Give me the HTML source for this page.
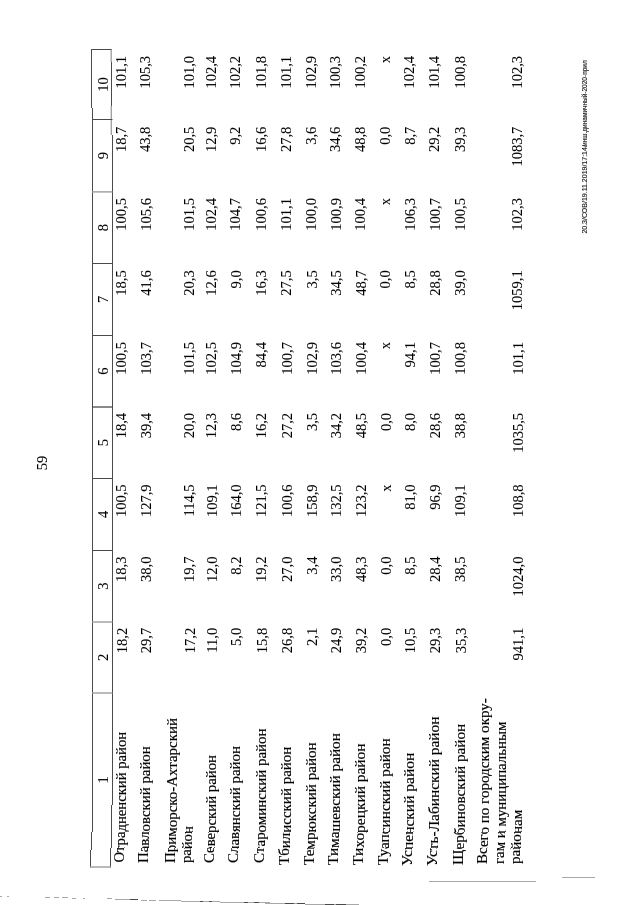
<!DOCTYPE html>
<html><head><meta charset="utf-8"><style>
html,body{margin:0;padding:0;background:#fff;}
body{width:640px;height:905px;overflow:hidden;position:relative;}
#pg{position:absolute;left:0;top:0;width:905px;height:640px;transform-origin:0 0;transform:translateY(905px) rotate(-90deg);will-change:transform;}
.t{position:absolute;font-family:"Liberation Serif",serif;font-size:14.5px;line-height:0;white-space:nowrap;color:#000;-webkit-text-stroke:0.1px #000;}
.r{text-align:right;}
.band{position:absolute;left:0;top:0;width:905px;height:640px;}
.c{width:200px;text-align:center;}
.ln{position:absolute;}
.ft{position:absolute;font-family:"Liberation Sans",sans-serif;white-space:nowrap;color:#111;-webkit-text-stroke:0.15px #111;}
.bl{position:absolute;background:#999;height:1px;}
</style></head><body>
<div id="pg">
<div class="t c" style="left:25.00px;top:103.11px;">1</div>
<div class="t c" style="left:147.50px;top:103.11px;">2</div>
<div class="t c" style="left:218.75px;top:103.11px;">3</div>
<div class="t c" style="left:290.50px;top:103.11px;">4</div>
<div class="t c" style="left:362.25px;top:103.11px;">5</div>
<div class="t c" style="left:433.75px;top:103.11px;">6</div>
<div class="t c" style="left:505.50px;top:103.11px;">7</div>
<div class="t c" style="left:577.30px;top:103.11px;">8</div>
<div class="t c" style="left:649.30px;top:103.11px;">9</div>
<div class="t c" style="left:720.50px;top:103.11px;">10</div>
<div class="t r" style="right:627.80px;top:121.51px;">18,2</div>
<div class="t r" style="right:556.60px;top:121.38px;">18,3</div>
<div class="t r" style="right:484.40px;top:121.26px;">100,5</div>
<div class="t r" style="right:412.90px;top:121.13px;">18,4</div>
<div class="t r" style="right:342.10px;top:121.01px;">100,5</div>
<div class="t r" style="right:270.30px;top:120.88px;">18,5</div>
<div class="t r" style="right:198.10px;top:120.76px;">100,5</div>
<div class="t r" style="right:126.70px;top:120.63px;">18,7</div>
<div class="t r" style="right:56.00px;top:120.51px;">101,1</div>
<div class="t r" style="right:627.80px;top:146.31px;">29,7</div>
<div class="t r" style="right:556.60px;top:146.18px;">38,0</div>
<div class="t r" style="right:484.40px;top:146.06px;">127,9</div>
<div class="t r" style="right:412.90px;top:145.93px;">39,4</div>
<div class="t r" style="right:342.10px;top:145.81px;">103,7</div>
<div class="t r" style="right:270.30px;top:145.68px;">41,6</div>
<div class="t r" style="right:198.10px;top:145.56px;">105,6</div>
<div class="t r" style="right:126.70px;top:145.43px;">43,8</div>
<div class="t r" style="right:56.00px;top:145.31px;">105,3</div>
<div class="t r" style="right:627.80px;top:189.61px;">17,2</div>
<div class="t r" style="right:556.60px;top:189.48px;">19,7</div>
<div class="t r" style="right:484.40px;top:189.36px;">114,5</div>
<div class="t r" style="right:412.90px;top:189.23px;">20,0</div>
<div class="t r" style="right:342.10px;top:189.11px;">101,5</div>
<div class="t r" style="right:270.30px;top:188.98px;">20,3</div>
<div class="t r" style="right:198.10px;top:188.86px;">101,5</div>
<div class="t r" style="right:126.70px;top:188.73px;">20,5</div>
<div class="t r" style="right:56.00px;top:188.61px;">101,0</div>
<div class="t r" style="right:627.80px;top:211.81px;">11,0</div>
<div class="t r" style="right:556.60px;top:211.68px;">12,0</div>
<div class="t r" style="right:484.40px;top:211.56px;">109,1</div>
<div class="t r" style="right:412.90px;top:211.43px;">12,3</div>
<div class="t r" style="right:342.10px;top:211.31px;">102,5</div>
<div class="t r" style="right:270.30px;top:211.18px;">12,6</div>
<div class="t r" style="right:198.10px;top:211.06px;">102,4</div>
<div class="t r" style="right:126.70px;top:210.93px;">12,9</div>
<div class="t r" style="right:56.00px;top:210.81px;">102,4</div>
<div class="t r" style="right:627.80px;top:236.21px;">5,0</div>
<div class="t r" style="right:556.60px;top:236.08px;">8,2</div>
<div class="t r" style="right:484.40px;top:235.96px;">164,0</div>
<div class="t r" style="right:412.90px;top:235.83px;">8,6</div>
<div class="t r" style="right:342.10px;top:235.71px;">104,9</div>
<div class="t r" style="right:270.30px;top:235.58px;">9,0</div>
<div class="t r" style="right:198.10px;top:235.46px;">104,7</div>
<div class="t r" style="right:126.70px;top:235.33px;">9,2</div>
<div class="t r" style="right:56.00px;top:235.21px;">102,2</div>
<div class="t r" style="right:627.80px;top:261.51px;">15,8</div>
<div class="t r" style="right:556.60px;top:261.38px;">19,2</div>
<div class="t r" style="right:484.40px;top:261.26px;">121,5</div>
<div class="t r" style="right:412.90px;top:261.13px;">16,2</div>
<div class="t r" style="right:342.10px;top:261.01px;">84,4</div>
<div class="t r" style="right:270.30px;top:260.88px;">16,3</div>
<div class="t r" style="right:198.10px;top:260.76px;">100,6</div>
<div class="t r" style="right:126.70px;top:260.63px;">16,6</div>
<div class="t r" style="right:56.00px;top:260.51px;">101,8</div>
<div class="t r" style="right:627.80px;top:287.01px;">26,8</div>
<div class="t r" style="right:556.60px;top:286.88px;">27,0</div>
<div class="t r" style="right:484.40px;top:286.76px;">100,6</div>
<div class="t r" style="right:412.90px;top:286.63px;">27,2</div>
<div class="t r" style="right:342.10px;top:286.51px;">100,7</div>
<div class="t r" style="right:270.30px;top:286.38px;">27,5</div>
<div class="t r" style="right:198.10px;top:286.26px;">101,1</div>
<div class="t r" style="right:126.70px;top:286.13px;">27,8</div>
<div class="t r" style="right:56.00px;top:286.01px;">101,1</div>
<div class="t r" style="right:627.80px;top:312.21px;">2,1</div>
<div class="t r" style="right:556.60px;top:312.08px;">3,4</div>
<div class="t r" style="right:484.40px;top:311.96px;">158,9</div>
<div class="t r" style="right:412.90px;top:311.83px;">3,5</div>
<div class="t r" style="right:342.10px;top:311.71px;">102,9</div>
<div class="t r" style="right:270.30px;top:311.58px;">3,5</div>
<div class="t r" style="right:198.10px;top:311.46px;">100,0</div>
<div class="t r" style="right:126.70px;top:311.33px;">3,6</div>
<div class="t r" style="right:56.00px;top:311.21px;">102,9</div>
<div class="t r" style="right:627.80px;top:336.31px;">24,9</div>
<div class="t r" style="right:556.60px;top:336.18px;">33,0</div>
<div class="t r" style="right:484.40px;top:336.06px;">132,5</div>
<div class="t r" style="right:412.90px;top:335.93px;">34,2</div>
<div class="t r" style="right:342.10px;top:335.81px;">103,6</div>
<div class="t r" style="right:270.30px;top:335.68px;">34,5</div>
<div class="t r" style="right:198.10px;top:335.56px;">100,9</div>
<div class="t r" style="right:126.70px;top:335.43px;">34,6</div>
<div class="t r" style="right:56.00px;top:335.31px;">100,3</div>
<div class="t r" style="right:627.80px;top:361.21px;">39,2</div>
<div class="t r" style="right:556.60px;top:361.08px;">48,3</div>
<div class="t r" style="right:484.40px;top:360.96px;">123,2</div>
<div class="t r" style="right:412.90px;top:360.83px;">48,5</div>
<div class="t r" style="right:342.10px;top:360.71px;">100,4</div>
<div class="t r" style="right:270.30px;top:360.58px;">48,7</div>
<div class="t r" style="right:198.10px;top:360.46px;">100,4</div>
<div class="t r" style="right:126.70px;top:360.33px;">48,8</div>
<div class="t r" style="right:56.00px;top:360.21px;">100,2</div>
<div class="t r" style="right:627.80px;top:385.91px;">0,0</div>
<div class="t r" style="right:556.60px;top:385.78px;">0,0</div>
<div class="t r" style="right:484.40px;top:385.66px;">х</div>
<div class="t r" style="right:412.90px;top:385.53px;">0,0</div>
<div class="t r" style="right:342.10px;top:385.41px;">х</div>
<div class="t r" style="right:270.30px;top:385.28px;">0,0</div>
<div class="t r" style="right:198.10px;top:385.16px;">х</div>
<div class="t r" style="right:126.70px;top:385.03px;">0,0</div>
<div class="t r" style="right:56.00px;top:384.91px;">х</div>
<div class="t r" style="right:627.80px;top:410.41px;">10,5</div>
<div class="t r" style="right:556.60px;top:410.28px;">8,5</div>
<div class="t r" style="right:484.40px;top:410.16px;">81,0</div>
<div class="t r" style="right:412.90px;top:410.03px;">8,0</div>
<div class="t r" style="right:342.10px;top:409.91px;">94,1</div>
<div class="t r" style="right:270.30px;top:409.78px;">8,5</div>
<div class="t r" style="right:198.10px;top:409.66px;">106,3</div>
<div class="t r" style="right:126.70px;top:409.53px;">8,7</div>
<div class="t r" style="right:56.00px;top:409.41px;">102,4</div>
<div class="t r" style="right:627.80px;top:435.31px;">29,3</div>
<div class="t r" style="right:556.60px;top:435.18px;">28,4</div>
<div class="t r" style="right:484.40px;top:435.06px;">96,9</div>
<div class="t r" style="right:412.90px;top:434.93px;">28,6</div>
<div class="t r" style="right:342.10px;top:434.81px;">100,7</div>
<div class="t r" style="right:270.30px;top:434.68px;">28,8</div>
<div class="t r" style="right:198.10px;top:434.56px;">100,7</div>
<div class="t r" style="right:126.70px;top:434.43px;">29,2</div>
<div class="t r" style="right:56.00px;top:434.31px;">101,4</div>
<div class="t r" style="right:627.80px;top:460.51px;">35,3</div>
<div class="t r" style="right:556.60px;top:460.38px;">38,5</div>
<div class="t r" style="right:484.40px;top:460.26px;">109,1</div>
<div class="t r" style="right:412.90px;top:460.13px;">38,8</div>
<div class="t r" style="right:342.10px;top:460.01px;">100,8</div>
<div class="t r" style="right:270.30px;top:459.88px;">39,0</div>
<div class="t r" style="right:198.10px;top:459.76px;">100,5</div>
<div class="t r" style="right:126.70px;top:459.63px;">39,3</div>
<div class="t r" style="right:56.00px;top:459.51px;">100,8</div>
<div class="t r" style="right:627.80px;top:518.01px;">941,1</div>
<div class="t r" style="right:556.60px;top:517.88px;">1024,0</div>
<div class="t r" style="right:484.40px;top:517.76px;">108,8</div>
<div class="t r" style="right:412.90px;top:517.63px;">1035,5</div>
<div class="t r" style="right:342.10px;top:517.51px;">101,1</div>
<div class="t r" style="right:270.30px;top:517.38px;">1059,1</div>
<div class="t r" style="right:198.10px;top:517.26px;">102,3</div>
<div class="t r" style="right:126.70px;top:517.13px;">1083,7</div>
<div class="t r" style="right:56.00px;top:517.01px;">102,3</div>
<div class="band" style="clip-path:inset(0 0 0 73px)"><div class="t" style="left:42.40px;top:120.54px;font-size:14.7px;transform-origin:0 0;transform:scaleX(1.0);-webkit-text-stroke:0.2px #000;">Отрадненский район</div>
<div class="t" style="left:42.40px;top:145.34px;font-size:14.7px;transform-origin:0 0;transform:scaleX(1.012);-webkit-text-stroke:0.2px #000;">Павловский район</div>
<div class="t" style="left:41.90px;top:171.54px;font-size:14.7px;transform-origin:0 0;transform:scaleX(1.018);-webkit-text-stroke:0.2px #000;">Приморско-Ахтарский</div>
<div class="t" style="left:41.90px;top:187.84px;font-size:14.7px;transform-origin:0 0;transform:scaleX(1.0);-webkit-text-stroke:0.2px #000;">район</div>
<div class="t" style="left:42.40px;top:210.84px;font-size:14.7px;transform-origin:0 0;transform:scaleX(1.008);-webkit-text-stroke:0.2px #000;">Северский район</div>
<div class="t" style="left:41.80px;top:235.24px;font-size:14.7px;transform-origin:0 0;transform:scaleX(1.018);-webkit-text-stroke:0.2px #000;">Славянский район</div>
<div class="t" style="left:41.80px;top:260.54px;font-size:14.7px;transform-origin:0 0;transform:scaleX(1.018);-webkit-text-stroke:0.2px #000;">Староминский район</div>
<div class="t" style="left:40.30px;top:286.04px;font-size:14.7px;transform-origin:0 0;transform:scaleX(1.02);-webkit-text-stroke:0.2px #000;">Тбилисский район</div>
<div class="t" style="left:40.30px;top:311.24px;font-size:14.7px;transform-origin:0 0;transform:scaleX(1.028);-webkit-text-stroke:0.2px #000;">Темрюкский район</div>
<div class="t" style="left:40.30px;top:335.34px;font-size:14.7px;transform-origin:0 0;transform:scaleX(1.04);-webkit-text-stroke:0.2px #000;">Тимашевский район</div>
<div class="t" style="left:40.30px;top:360.24px;font-size:14.7px;transform-origin:0 0;transform:scaleX(1.05);-webkit-text-stroke:0.2px #000;">Тихорецкий район</div>
<div class="t" style="left:40.10px;top:384.94px;font-size:14.7px;transform-origin:0 0;transform:scaleX(1.04);-webkit-text-stroke:0.2px #000;">Туапсинский район</div>
<div class="t" style="left:39.40px;top:409.44px;font-size:14.7px;transform-origin:0 0;transform:scaleX(1.055);-webkit-text-stroke:0.2px #000;">Успенский район</div>
<div class="t" style="left:39.40px;top:434.34px;font-size:14.7px;transform-origin:0 0;transform:scaleX(1.046);-webkit-text-stroke:0.2px #000;">Усть-Лабинский район</div>
<div class="t" style="left:39.60px;top:459.54px;font-size:14.7px;transform-origin:0 0;transform:scaleX(1.038);-webkit-text-stroke:0.2px #000;">Щербиновский район</div>
<div class="t" style="left:40.90px;top:484.24px;font-size:14.7px;transform-origin:0 0;transform:scaleX(1.026);-webkit-text-stroke:0.2px #000;">Всего по городским окру-</div>
<div class="t" style="left:40.90px;top:500.54px;font-size:14.7px;transform-origin:0 0;transform:scaleX(1.012);-webkit-text-stroke:0.2px #000;">гам и муниципальным</div>
<div class="t" style="left:40.90px;top:517.04px;font-size:14.7px;transform-origin:0 0;transform:scaleX(1.03);-webkit-text-stroke:0.2px #000;">районам</div></div>
<div class="band" style="clip-path:inset(0 832px 0 57px);transform:translateY(-0.8px)"><div class="t" style="left:42.40px;top:120.54px;font-size:14.7px;transform-origin:0 0;transform:scaleX(1.0);-webkit-text-stroke:0.2px #000;">Отрадненский район</div>
<div class="t" style="left:42.40px;top:145.34px;font-size:14.7px;transform-origin:0 0;transform:scaleX(1.012);-webkit-text-stroke:0.2px #000;">Павловский район</div>
<div class="t" style="left:41.90px;top:171.54px;font-size:14.7px;transform-origin:0 0;transform:scaleX(1.018);-webkit-text-stroke:0.2px #000;">Приморско-Ахтарский</div>
<div class="t" style="left:41.90px;top:187.84px;font-size:14.7px;transform-origin:0 0;transform:scaleX(1.0);-webkit-text-stroke:0.2px #000;">район</div>
<div class="t" style="left:42.40px;top:210.84px;font-size:14.7px;transform-origin:0 0;transform:scaleX(1.008);-webkit-text-stroke:0.2px #000;">Северский район</div>
<div class="t" style="left:41.80px;top:235.24px;font-size:14.7px;transform-origin:0 0;transform:scaleX(1.018);-webkit-text-stroke:0.2px #000;">Славянский район</div>
<div class="t" style="left:41.80px;top:260.54px;font-size:14.7px;transform-origin:0 0;transform:scaleX(1.018);-webkit-text-stroke:0.2px #000;">Староминский район</div>
<div class="t" style="left:40.30px;top:286.04px;font-size:14.7px;transform-origin:0 0;transform:scaleX(1.02);-webkit-text-stroke:0.2px #000;">Тбилисский район</div>
<div class="t" style="left:40.30px;top:311.24px;font-size:14.7px;transform-origin:0 0;transform:scaleX(1.028);-webkit-text-stroke:0.2px #000;">Темрюкский район</div>
<div class="t" style="left:40.30px;top:335.34px;font-size:14.7px;transform-origin:0 0;transform:scaleX(1.04);-webkit-text-stroke:0.2px #000;">Тимашевский район</div>
<div class="t" style="left:40.30px;top:360.24px;font-size:14.7px;transform-origin:0 0;transform:scaleX(1.05);-webkit-text-stroke:0.2px #000;">Тихорецкий район</div>
<div class="t" style="left:40.10px;top:384.94px;font-size:14.7px;transform-origin:0 0;transform:scaleX(1.04);-webkit-text-stroke:0.2px #000;">Туапсинский район</div>
<div class="t" style="left:39.40px;top:409.44px;font-size:14.7px;transform-origin:0 0;transform:scaleX(1.055);-webkit-text-stroke:0.2px #000;">Успенский район</div>
<div class="t" style="left:39.40px;top:434.34px;font-size:14.7px;transform-origin:0 0;transform:scaleX(1.046);-webkit-text-stroke:0.2px #000;">Усть-Лабинский район</div>
<div class="t" style="left:39.60px;top:459.54px;font-size:14.7px;transform-origin:0 0;transform:scaleX(1.038);-webkit-text-stroke:0.2px #000;">Щербиновский район</div>
<div class="t" style="left:40.90px;top:484.24px;font-size:14.7px;transform-origin:0 0;transform:scaleX(1.026);-webkit-text-stroke:0.2px #000;">Всего по городским окру-</div>
<div class="t" style="left:40.90px;top:500.54px;font-size:14.7px;transform-origin:0 0;transform:scaleX(1.012);-webkit-text-stroke:0.2px #000;">гам и муниципальным</div>
<div class="t" style="left:40.90px;top:517.04px;font-size:14.7px;transform-origin:0 0;transform:scaleX(1.03);-webkit-text-stroke:0.2px #000;">районам</div></div>
<div class="band" style="clip-path:inset(0 848px 0 0);transform:translateY(-1.6px)"><div class="t" style="left:42.40px;top:120.54px;font-size:14.7px;transform-origin:0 0;transform:scaleX(1.0);-webkit-text-stroke:0.2px #000;">Отрадненский район</div>
<div class="t" style="left:42.40px;top:145.34px;font-size:14.7px;transform-origin:0 0;transform:scaleX(1.012);-webkit-text-stroke:0.2px #000;">Павловский район</div>
<div class="t" style="left:41.90px;top:171.54px;font-size:14.7px;transform-origin:0 0;transform:scaleX(1.018);-webkit-text-stroke:0.2px #000;">Приморско-Ахтарский</div>
<div class="t" style="left:41.90px;top:187.84px;font-size:14.7px;transform-origin:0 0;transform:scaleX(1.0);-webkit-text-stroke:0.2px #000;">район</div>
<div class="t" style="left:42.40px;top:210.84px;font-size:14.7px;transform-origin:0 0;transform:scaleX(1.008);-webkit-text-stroke:0.2px #000;">Северский район</div>
<div class="t" style="left:41.80px;top:235.24px;font-size:14.7px;transform-origin:0 0;transform:scaleX(1.018);-webkit-text-stroke:0.2px #000;">Славянский район</div>
<div class="t" style="left:41.80px;top:260.54px;font-size:14.7px;transform-origin:0 0;transform:scaleX(1.018);-webkit-text-stroke:0.2px #000;">Староминский район</div>
<div class="t" style="left:40.30px;top:286.04px;font-size:14.7px;transform-origin:0 0;transform:scaleX(1.02);-webkit-text-stroke:0.2px #000;">Тбилисский район</div>
<div class="t" style="left:40.30px;top:311.24px;font-size:14.7px;transform-origin:0 0;transform:scaleX(1.028);-webkit-text-stroke:0.2px #000;">Темрюкский район</div>
<div class="t" style="left:40.30px;top:335.34px;font-size:14.7px;transform-origin:0 0;transform:scaleX(1.04);-webkit-text-stroke:0.2px #000;">Тимашевский район</div>
<div class="t" style="left:40.30px;top:360.24px;font-size:14.7px;transform-origin:0 0;transform:scaleX(1.05);-webkit-text-stroke:0.2px #000;">Тихорецкий район</div>
<div class="t" style="left:40.10px;top:384.94px;font-size:14.7px;transform-origin:0 0;transform:scaleX(1.04);-webkit-text-stroke:0.2px #000;">Туапсинский район</div>
<div class="t" style="left:39.40px;top:409.44px;font-size:14.7px;transform-origin:0 0;transform:scaleX(1.055);-webkit-text-stroke:0.2px #000;">Успенский район</div>
<div class="t" style="left:39.40px;top:434.34px;font-size:14.7px;transform-origin:0 0;transform:scaleX(1.046);-webkit-text-stroke:0.2px #000;">Усть-Лабинский район</div>
<div class="t" style="left:39.60px;top:459.54px;font-size:14.7px;transform-origin:0 0;transform:scaleX(1.038);-webkit-text-stroke:0.2px #000;">Щербиновский район</div>
<div class="t" style="left:40.90px;top:484.24px;font-size:14.7px;transform-origin:0 0;transform:scaleX(1.026);-webkit-text-stroke:0.2px #000;">Всего по городским окру-</div>
<div class="t" style="left:40.90px;top:500.54px;font-size:14.7px;transform-origin:0 0;transform:scaleX(1.012);-webkit-text-stroke:0.2px #000;">гам и муниципальным</div>
<div class="t" style="left:40.90px;top:517.04px;font-size:14.7px;transform-origin:0 0;transform:scaleX(1.03);-webkit-text-stroke:0.2px #000;">районам</div></div>
<div class="t" style="left:434.75px;top:41.91px;">59</div>
<div class="ft" style="left:671.4px;top:584.57px;font-size:7px;line-height:0;">20.3/СОВ/19.11.2019/17:14/</div>
<div class="ft" style="left:759.4px;top:584.57px;font-size:7px;line-height:0;transform-origin:0 0;transform:scaleX(0.93);">инш.динамичный-2020-прил</div>
</div>
<svg width="640" height="905" style="position:absolute;left:0;top:0"><line x1="91.5" y1="49" x2="91.5" y2="108" stroke="#4a4a4a" stroke-width="1"/><line x1="92.5" y1="108" x2="92.5" y2="832" stroke="#4a4a4a" stroke-width="1"/><line x1="91.5" y1="832" x2="91.5" y2="850" stroke="#4a4a4a" stroke-width="1"/><line x1="90.5" y1="850" x2="90.5" y2="867.5" stroke="#4a4a4a" stroke-width="1"/><line x1="111.2" y1="49" x2="111.2" y2="62" stroke="#9c9c9c" stroke-width="1.3"/><line x1="111.5" y1="62" x2="111.5" y2="106" stroke="#4a4a4a" stroke-width="1"/><line x1="111.3" y1="106" x2="111.3" y2="135" stroke="#9c9c9c" stroke-width="1.3"/><line x1="112.5" y1="135" x2="112.5" y2="805" stroke="#4a4a4a" stroke-width="1"/><line x1="111.5" y1="805" x2="111.5" y2="848" stroke="#4a4a4a" stroke-width="1"/><line x1="110.5" y1="848" x2="110.5" y2="867.5" stroke="#4a4a4a" stroke-width="1"/><line x1="91" y1="49.5" x2="111.5" y2="49.5" stroke="#4a4a4a" stroke-width="1"/><line x1="90" y1="867" x2="111" y2="867" stroke="#9c9c9c" stroke-width="1.4"/><line x1="92" y1="119.5" x2="112.5" y2="119.5" stroke="#4a4a4a" stroke-width="1"/><line x1="92" y1="191.9" x2="112.5" y2="191.9" stroke="#9c9c9c" stroke-width="1.4"/><line x1="92" y1="263.5" x2="112.5" y2="263.5" stroke="#4a4a4a" stroke-width="1"/><line x1="92" y1="335.5" x2="112.5" y2="335.5" stroke="#4a4a4a" stroke-width="1"/><line x1="92" y1="407" x2="112.5" y2="407" stroke="#4a4a4a" stroke-width="1.3"/><line x1="92" y1="478.5" x2="112.5" y2="478.5" stroke="#4a4a4a" stroke-width="1"/><line x1="92" y1="550.5" x2="112.5" y2="550.5" stroke="#4a4a4a" stroke-width="1"/><line x1="92" y1="622" x2="112.5" y2="622" stroke="#9c9c9c" stroke-width="1.4"/><line x1="92" y1="693" x2="112.5" y2="693" stroke="#9c9c9c" stroke-width="1.4"/><rect x="0" y="896" width="2" height="1" fill="#a8a8a8"/><rect x="7" y="896" width="2" height="1" fill="#a8a8a8"/><rect x="45" y="897" width="5" height="1" fill="#a8a8a8"/><rect x="54" y="897" width="5" height="1" fill="#a8a8a8"/><rect x="62" y="897" width="6" height="1" fill="#a8a8a8"/><rect x="72" y="898" width="4" height="1" fill="#a8a8a8"/><rect x="83" y="898" width="2" height="1" fill="#a8a8a8"/><rect x="107" y="898" width="5" height="1" fill="#a8a8a8"/><rect x="115" y="899" width="15" height="1" fill="#a8a8a8"/><rect x="130" y="899" width="8" height="1" fill="#4a4a4a"/><rect x="141" y="900" width="6" height="1" fill="#a8a8a8"/><rect x="149" y="900" width="7" height="1" fill="#a8a8a8"/><rect x="159" y="900" width="22" height="1" fill="#a8a8a8"/><rect x="181" y="901" width="39" height="1" fill="#a8a8a8"/><rect x="200" y="901" width="3" height="1" fill="#4a4a4a"/><rect x="209" y="901" width="3" height="1" fill="#4a4a4a"/><rect x="220" y="902" width="50" height="1" fill="#a8a8a8"/><rect x="244" y="902" width="4" height="1" fill="#4a4a4a"/><rect x="254" y="902" width="5" height="1" fill="#4a4a4a"/><rect x="265" y="903" width="40" height="1" fill="#a8a8a8"/><rect x="285" y="903" width="9" height="1" fill="#4a4a4a"/><rect x="297" y="903" width="8" height="1" fill="#4a4a4a"/><rect x="305" y="904" width="54" height="1" fill="#a8a8a8"/><rect x="325" y="904" width="9" height="1" fill="#4a4a4a"/><rect x="336" y="904" width="10" height="1" fill="#4a4a4a"/><rect x="429" y="881" width="107" height="1" fill="#a8a8a8"/><rect x="562" y="877" width="33" height="1" fill="#a8a8a8"/></svg>
</body></html>
